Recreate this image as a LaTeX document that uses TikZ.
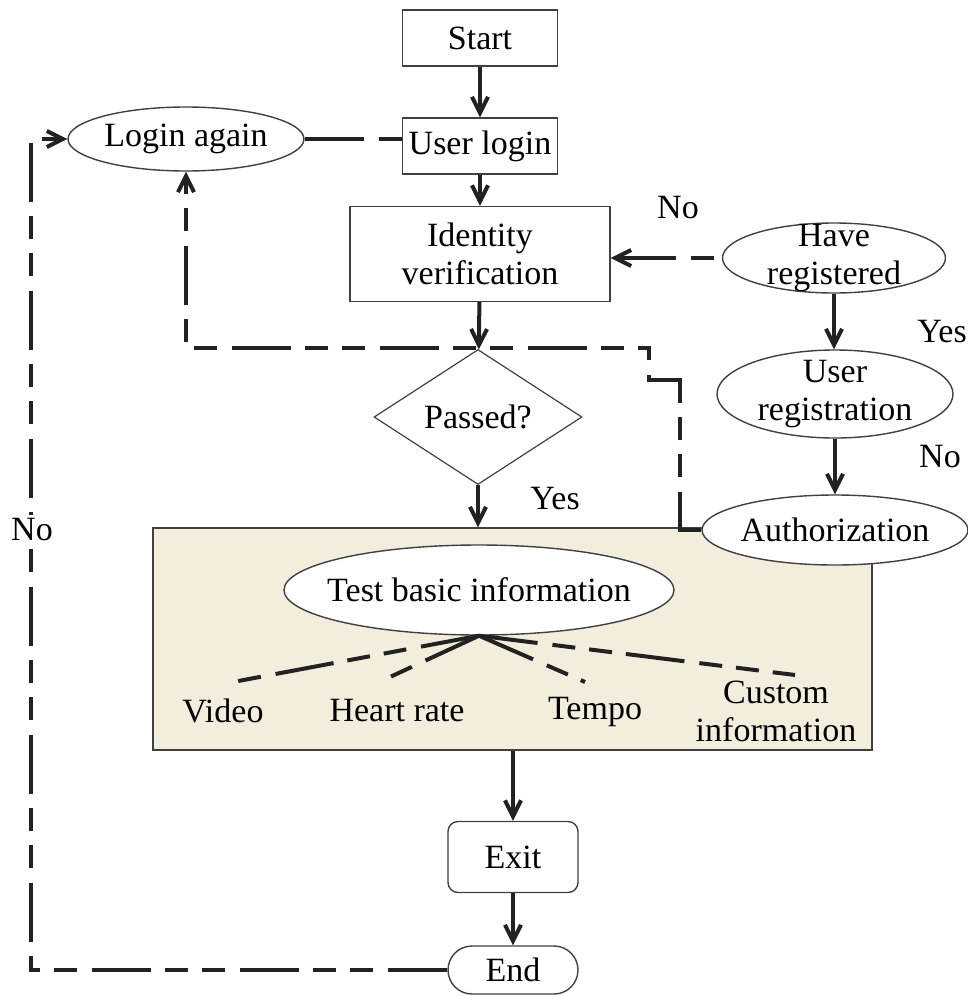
\documentclass[tikz,border=0pt]{standalone}
\usepackage{fontspec}
\setmainfont{Liberation Serif}
\usetikzlibrary{arrows.meta,shapes.geometric}
\definecolor{panelc}{HTML}{F2EDDC}
\definecolor{ink}{HTML}{222222}
\begin{document}
\begin{tikzpicture}[x=0.5pt,y=-0.5pt,
  font=\fontsize{17}{19}\selectfont,
  box/.style={draw=black!75,line width=0.7pt,rectangle,inner sep=0pt},
  oval/.style={draw=black!75,line width=0.7pt,ellipse,inner sep=0pt,fill=white},
  txt/.style={align=center,inner sep=0pt},
  tip/.style={-{Straight Barb[length=8pt,width=8pt]}},
  flow/.style={line width=2pt,draw=ink,tip},
  dd/.style={line width=2pt,draw=ink,dash pattern=on 29.5pt off 7.5pt on 11.5pt off 7pt on 11.5pt off 7pt},
  ddtip/.style={dd,tip}
]
\useasboundingbox (0,0) rectangle (968,996);
% background panel
\node[draw=black!75,line width=0.7pt,fill=panelc,minimum width=359.5pt,minimum height=111pt,inner sep=0pt] (panel) at (512.5,639) {};
% boxes
\node[box,minimum width=77.5pt,minimum height=28pt] (start) at (480,38) {Start};
\node[box,minimum width=77.5pt,minimum height=28pt] (login) at (480,146) {User login};
\node[box,minimum width=130pt,minimum height=47.5pt,align=center] (ident) at (480,254) {Identity\\verification};
\node[oval,minimum width=118pt,minimum height=32pt] (again) at (186,139) {};
\node[txt] (againT) at (again) {Login again};
\node[oval,minimum width=111.5pt,minimum height=35pt] (have) at (834,258) {};
\node[txt] (haveT) at (have) {Have\\registered};
\node[oval,minimum width=118pt,minimum height=44pt] (ureg) at (835,394) {};
\node[txt] (uregT) at (ureg) {User\\registration};
\node[oval,minimum width=133pt,minimum height=35pt] (auth) at (835,530) {};
\node[txt] (authT) at (auth) {Authorization};
\node[diamond,draw=black!75,line width=0.6pt,inner sep=0pt,minimum width=104pt,minimum height=67.5pt] (pass) at (478,417) {};
\node[txt] (passT) at (pass) {Passed?};
\node[oval,minimum width=195pt,minimum height=45pt] (test) at (479,590) {};
\node[txt] (testT) at (test) {Test basic information};
\node[box,rounded corners=5pt,minimum width=65pt,minimum height=35.5pt] (exit) at (513,857) {Exit};
\node[box,rounded corners=12pt,minimum width=65pt,minimum height=24pt] (end) at (513,970) {End};
% fan labels
\node[txt] (video) at (223,711) {Video};
\node[txt] (heart) at (397,711) {Heart rate};
\node[txt] (tempo) at (595,712) {Tempo};
\node[txt] (custom) at (776,711) {Custom\\information};
% condition labels
\node[txt] (no1) at (678,208) {No};
\node[txt] (yes1) at (942,332) {Yes};
\node[txt] (no2) at (940,457) {No};
\node[txt] (yes2) at (555,499) {Yes};
% solid flow arrows
\draw[flow] (start) -- (login);
\draw[flow] (login) -- (ident);
\draw[flow] (ident) -- (pass);
\draw[flow] (pass) -- (pass.south |- panel.north);
\draw[flow] (have.south) -- (have.south |- ureg.north);
\draw[flow] (ureg.south) -- (ureg.south |- auth.north);
\draw[flow] (exit.north |- panel.south) -- (exit);
\draw[flow] (exit) -- (end);
% dashed connectors
\draw[dd] (again.east) -- (again.east -| login.west);
\draw[dd,{Straight Barb[length=8pt,width=8pt]}-] (have.west -| ident.east) -- (have.west);
\coordinate (a1) at (680,530);
\coordinate (a2) at (680,380);
\coordinate (a3) at (649,380);
\coordinate (a4) at (649,348);
\draw[ddtip] (auth.west) -- (a1) -- (a2) -- (a3) -- (a4) -- (again.south |- a4) -- (again.south);
\coordinate (l1) at (31,970);
\coordinate (l2) at (31,139);
\draw[ddtip] (end.west) -- (l1) -- (l2) -- (again.west);
\node[txt,fill=white,inner sep=2pt] (no3) at (32,530) {No};
% fan
\coordinate (apex) at (test.south);
\coordinate (v1) at (233,682);
\coordinate (h1) at (390,677);
\coordinate (t1) at (585,682);
\coordinate (c1) at (795,675);
\draw[dd] (apex) -- (v1);
\draw[dd] (apex) -- (h1);
\draw[dd] (apex) -- (t1);
\draw[dd] (apex) -- (c1);
\end{tikzpicture}
\end{document}
